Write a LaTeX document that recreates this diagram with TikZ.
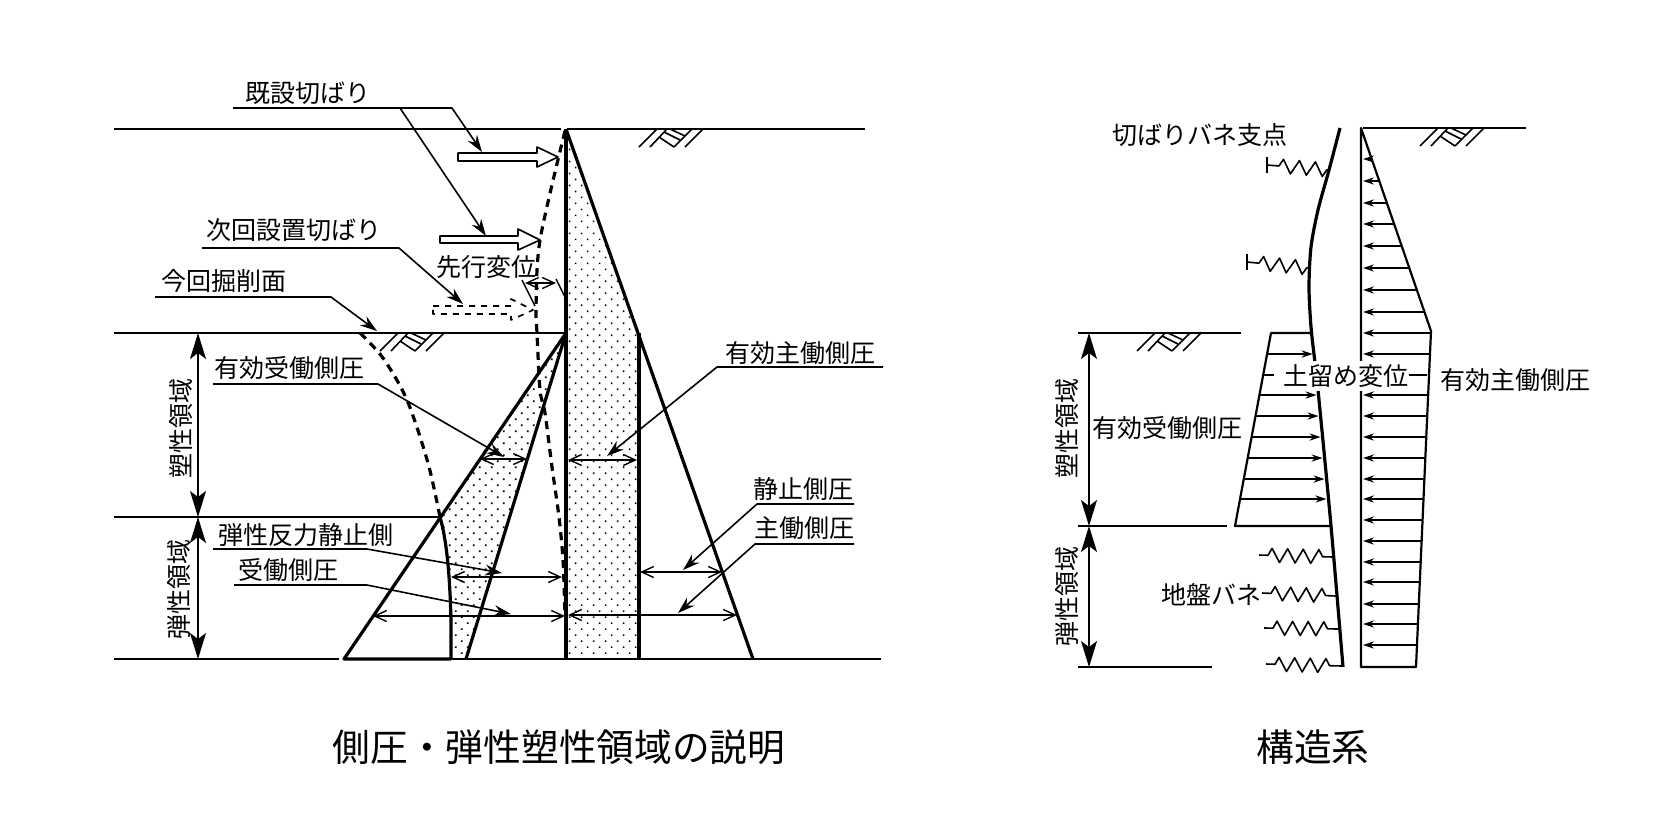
\documentclass[tikz,border=0pt]{standalone}
\usepackage{fontspec}
\setmainfont{Noto Sans CJK JP}
\usetikzlibrary{arrows.meta,patterns.meta,decorations.pathmorphing}
\tikzset{
    lbl/.style={inner sep=0pt},
    ttl/.style={inner sep=0pt, font=\fontsize{18.85}{22}\selectfont},
    ground/.style={line width=1pt},
    wall/.style={line width=1.6pt},
    thinwall/.style={line width=1.1pt},
    leader/.style={line width=.8pt, -{Stealth[length=8.5pt,width=5.5pt]}},
    dimarrow/.style={line width=.7pt, {Straight Barb[length=6pt,width=5.5pt]}-{Straight Barb[length=6pt,width=5.5pt]}},
    zonearrow/.style={line width=.8pt, {Stealth[length=13pt,width=8pt,inset=3pt]}-{Stealth[length=13pt,width=8pt,inset=3pt]}},
    rowarrow/.style={line width=.8pt, -{Stealth[length=5.5pt,width=3.6pt]}},
    dots/.style={pattern={Dots[distance=4.24pt,angle=45,radius=.6pt]}},
    spring/.style={line width=.8pt, decorate, decoration={zigzag,amplitude=3.5pt,segment length=7.8pt,pre length=4.5pt,post length=3pt}},
    strutspring/.style={line width=.8pt, decorate, decoration={zigzag,amplitude=3.5pt,segment length=8pt,pre length=6pt,post length=.5pt}},
    groundmark/.pic={
        \draw[line width=.8pt] (-18,18) -- (0,0) (-7,18) -- (10,0) (17,18) -- (35,0) (28,18) -- (46,0);
        \draw[line width=.8pt] (2,8) -- (17,18) (7,3) -- (23,11) (13,0) -- (28,7);
    }
}
\begin{document}
\begin{tikzpicture}[x=.5pt, y=-.5pt, font=\fontsize{12.5}{15}\selectfont, line join=round]
    \useasboundingbox (0,0) rectangle (1654,827);
    % left figure, stippled pressure zones
    \path[dots] (566,129) -- (639,333) -- (639,659) -- (566,659) -- cycle;
    \path[dots] (566,333) -- (466,659) -- (451,659) -- (451,620) .. controls (450,585) and (448,545) .. (440,517) -- cycle;
    % ground lines
    \draw[ground] (114,129) -- (561,129) (567,129) -- (865,129);
    \draw[ground] (114,333) -- (566,333);
    \draw[ground] (114,517) -- (440,517);
    \draw[ground] (114,659) -- (339,659) (344,659) -- (881,659);
    \path (657,129) pic {groundmark} (398,333) pic {groundmark};
    % wall and pressure lines
    \draw[wall] (566,129) -- (566,659);
    \draw[wall] (566,129) -- (753,659);
    \draw[wall] (639,333) -- (639,659);
    \draw[wall] (566,333) -- (344,659) -- (451,659);
    \draw[wall] (566,333) -- (466,659);
    \draw[wall] (440,517) .. controls (448,545) and (450,585) .. (451,620) -- (451,659);
    \draw[wall, dash pattern=on 4pt off 3pt] plot[smooth] coordinates {(565,131) (540,240) (536,308) (537,333) (540,390) (545,413) (552,467) (559,517) (563,560) (565,615)};
    \draw[wall, dash pattern=on 4pt off 3pt] plot[smooth] coordinates {(360,333) (383,358) (407,400) (428,463) (440,517)};
    % strut arrows
    \draw[line width=.8pt] (458,153) -- (537,153) -- (537,147) -- (558,157) -- (537,167) -- (537,161) -- (458,161) -- cycle;
    \draw[line width=.8pt] (440,236) -- (518,236) -- (518,229) -- (540,240) -- (518,250) -- (518,243) -- (440,243) -- cycle;
    \draw[line width=.8pt, dashed] (433,306) -- (511,306) -- (511,299) -- (533,310) -- (511,320) -- (511,314) -- (433,314) -- cycle;
    % leaders
    \draw[leader] (233,108) -- (452,108) -- (482,152);
    \draw[leader] (400,108) -- (486,236);
    \draw[leader] (202,248) -- (399,248) -- (463,304);
    \draw[leader] (155,297) -- (331,297) -- (377,331);
    \draw[leader] (213,384) -- (378,384) -- (504,457);
    \draw[leader] (213,549) -- (367,549) -- (502,573);
    \draw[leader] (234,585) -- (367,585) -- (511,614);
    \draw[leader] (883,367) -- (717,367) -- (607,456);
    \draw[leader] (854,504) -- (757,504) -- (683,570);
    \draw[leader] (854,544) -- (755,544) -- (678,613);
    % dimensions
    \draw[line width=.7pt] (522,280) -- (535,306) (556,279) -- (566,299);
    \draw[dimarrow] (525,283) -- (556,283);
    \draw[dimarrow] (480,459) -- (527,459);
    \draw[dimarrow] (568,460) -- (637,460);
    \draw[dimarrow] (451,577) -- (562,577);
    \draw[dimarrow] (640,572) -- (722,572);
    \draw[dimarrow] (373,616) -- (565,616);
    \draw[dimarrow] (568,615) -- (737,615);
    \draw[zonearrow] (198,333) -- (198,517);
    \draw[zonearrow] (198,517) -- (198,659);
    % left figure, texts
    \node[lbl] (kisetsu) at (308,93) {既設切ばり};
    \node[lbl] (jikai) at (294,230) {次回設置切ばり};
    \node[lbl] (konkai) at (224,281) {今回掘削面};
    \node[lbl] (senko) at (486,267) {先行変位};
    \node[lbl] (jubo) at (289,368) {有効受働側圧};
    \node[lbl] (shubo) at (800,353) {有効主働側圧};
    \node[lbl] (hanryoku) at (306,535) {弾性反力静止側};
    \node[lbl] (judo) at (288,570) {受働側圧};
    \node[lbl] (seishi) at (803,489) {静止側圧};
    \node[lbl] (shudo) at (804,528) {主働側圧};
    \node[lbl, rotate=90] (sosei) at (181,428) {塑性領域};
    \node[lbl, rotate=90] (dansei) at (179,589) {弾性領域};
    \node[ttl] (titleL) at (559,747) {側圧・弾性塑性領域の説明};
    % right figure, ground lines
    \draw[ground] (1363,128) -- (1526,128);
    \draw[ground] (1078,333) -- (1241,333);
    \draw[ground] (1078,526) -- (1227,526);
    \draw[ground] (1078,667) -- (1212,667);
    \path (1438,128) pic {groundmark} (1155,333) pic {groundmark};
    \draw[zonearrow] (1089,333) -- (1089,526);
    \draw[zonearrow] (1089,526) -- (1089,667);
    % active side
    \draw[thinwall] (1361,128) -- (1361,667) -- (1416,667) -- (1431,331) -- cycle;
    \foreach \yr in {159,181,203,224,246,268,290,312,333,354,395,416,437,458,479,499,520,541,562,582,604,624,645} {
        \pgfmathsetmacro{\xr}{\yr<331 ? 1361+.3448*(\yr-128) : 1431-.04464*(\yr-331)}
        \draw[rowarrow] (\xr,\yr) -- (1363,\yr);
    }
    \draw[line width=.8pt] (1409,375) -- (1427,375);
    % passive side
    \draw[thinwall] (1310,333) -- (1271,333) -- (1235,526) -- (1331,526);
    \foreach \yr in {354,395,416,437,458,479,499} {
        \pgfmathsetmacro{\xl}{1271-.1865*(\yr-333)}
        \pgfmathsetmacro{\xw}{1329-(526-\yr)*.095}
        \draw[rowarrow] (\xl,\yr) -- (\xw,\yr);
    }
    \draw[line width=.8pt] (1263,375) -- (1274,375);
    % deflected wall
    \draw[wall] plot[smooth] coordinates {(1340,128) (1329,170) (1318,210) (1311,247) (1309,287) (1311,327) (1315,363) (1319,400) (1331,526) (1343,667)};
    % springs
    \draw[line width=.8pt] (1267,157) -- (1267,173) (1247,254) -- (1247,270);
    \draw[strutspring] (1267,165) -- (1329,170);
    \draw[strutspring] (1247,262) -- (1309,268);
    \draw[spring] (1259,555) -- (1333,557);
    \draw[spring] (1262,593) -- (1336,596);
    \draw[spring] (1264,628) -- (1339,629);
    \draw[spring] (1266,664) -- (1342,666);
    % right figure, texts
    \node[lbl] (shiten) at (1200,135) {切ばりバネ支点};
    \node[lbl, fill=white, minimum height=15pt] (henni) at (1346,376) {土留め変位};
    \node[lbl] (shuboR) at (1515,380) {有効主働側圧};
    \node[lbl] (juboR) at (1167,428) {有効受働側圧};
    \node[lbl] (jiban) at (1211,595) {地盤バネ};
    \node[lbl, rotate=90] (soseiR) at (1067,428) {塑性領域};
    \node[lbl, rotate=90] (danseiR) at (1067,596) {弾性領域};
    \node[ttl] (titleR) at (1313,747) {構造系};
\end{tikzpicture}
\end{document}
